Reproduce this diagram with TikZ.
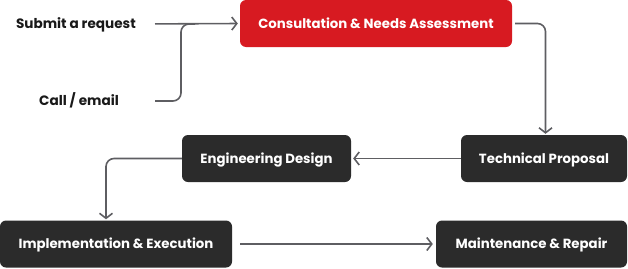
\documentclass[tikz,border=0pt]{standalone}
\usepackage{fontspec}
\setmainfont{Poppins}
\usetikzlibrary{arrows.meta}
\definecolor{stepred}{HTML}{D71A21}
\definecolor{stepdark}{HTML}{2B2B2B}
\definecolor{linegray}{HTML}{5E5E62}
\tikzset{
    >={Straight Barb[length=5pt,width=13pt,line width=1.6pt]}, % open chevron head
    % box styles
    stepbox/.style={rounded corners=6pt, fill=stepdark, text=white,
        minimum height=47pt, inner sep=0pt, text height=10pt, text depth=1pt,
        font=\fontsize{13.3}{15}\selectfont\bfseries},
    redbox/.style={stepbox, fill=stepred},
    sidetext/.style={inner sep=0pt, text=black!90, text height=10pt, text depth=1pt,
        font=\fontsize{13.6}{15}\selectfont\bfseries},
    % connectors
    flow/.style={->, draw=linegray, line width=1.6pt, rounded corners=8pt},
    plainflow/.style={draw=linegray, line width=1.6pt, rounded corners=8pt}
}
\begin{document}
\begin{tikzpicture}[x=1pt,y=1pt]
  \useasboundingbox (0,0) rectangle (628,-268);

  % Process steps
  \node[redbox, minimum width=272pt] (consult) at (376,-23.5) {Consultation \& Needs Assessment};
  \node[stepbox, minimum width=166pt] (proposal) at (544,-158.5) {Technical Proposal};
  \node[stepbox, minimum width=169pt] (design) at (266.5,-158.5) {Engineering Design};
  \node[stepbox, minimum width=232pt] (implement) at (116,-244) {Implementation \& Execution};
  \node[stepbox, minimum width=191pt] (maintain) at (531.5,-244) {Maintenance \& Repair};

  % Entry points
  \node[sidetext, anchor=east] (submit) at (136,-24) {Submit a request};
  \node[sidetext, anchor=east] (call) at (119,-101) {Call / email};
  \coordinate (merge) at (181,-24);

  % Connectors
  \draw[flow, shorten <=19pt, shorten >=2pt] (submit.east) -- (consult.west);
  \draw[plainflow, shorten <=36pt] (call.east) -| (merge) -- ++(14,0);
  \draw[flow, shorten <=3pt, shorten >=1pt] (consult.east) -| ([xshift=1.5pt]proposal.north);
  \draw[flow, shorten >=2pt] (proposal.west) -- (design.east);
  \draw[flow, shorten >=1pt] (design.west) -| ([xshift=-10pt]implement.north);
  \draw[flow, shorten <=8pt, shorten >=3pt] (implement.east) -- (maintain.west);

\end{tikzpicture}
\end{document}
